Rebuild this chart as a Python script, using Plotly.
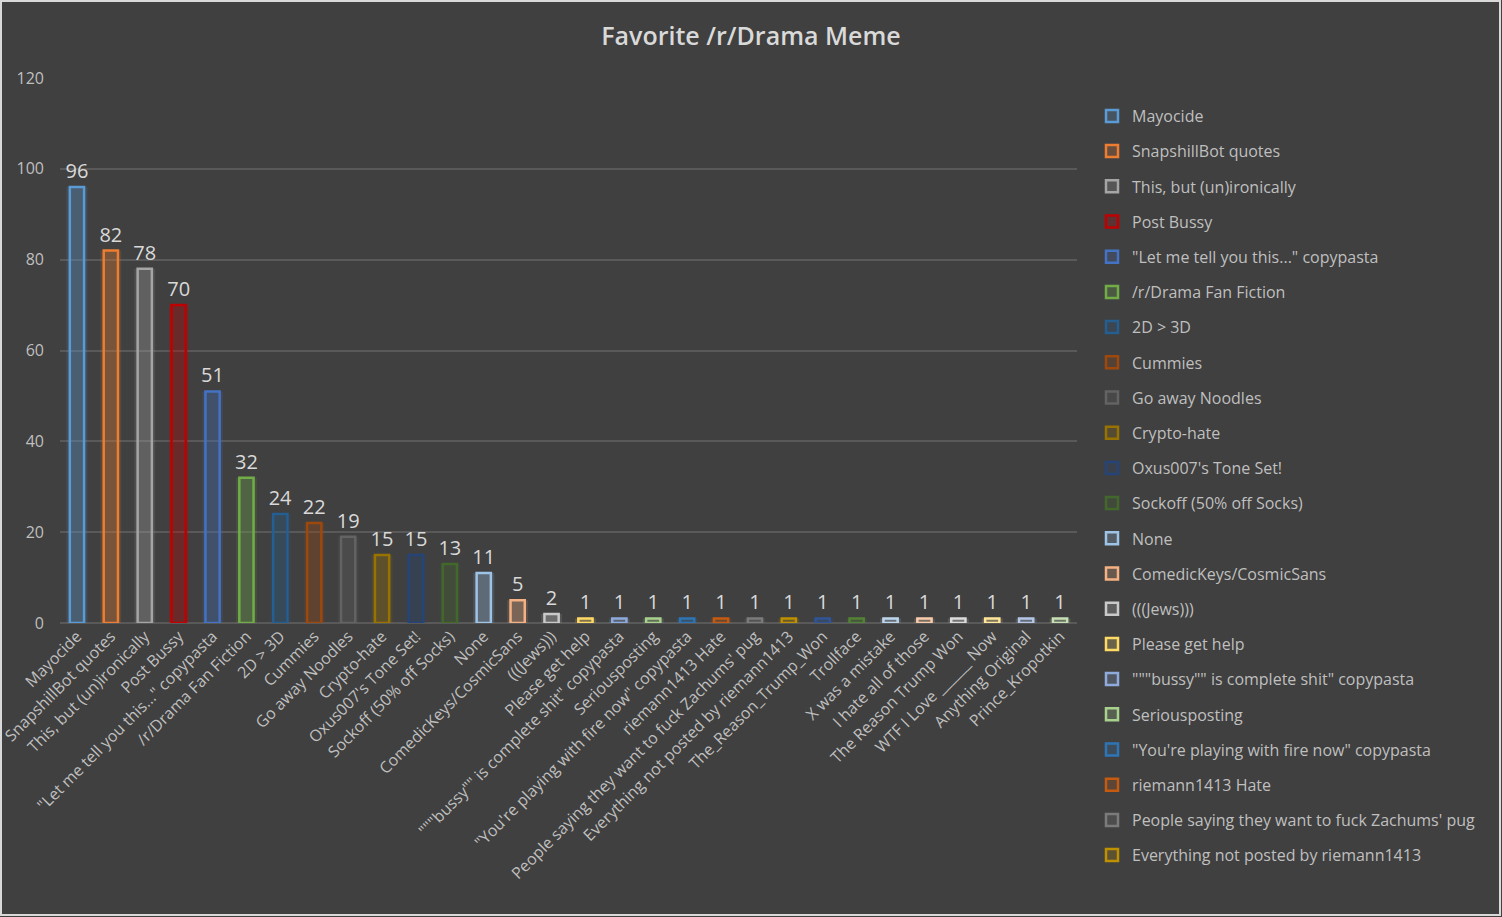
import plotly.graph_objects as go

categories = [
    "Mayocide", "SnapshillBot quotes", "This, but (un)ironically", "Post Bussy",
    "\"Let me tell you this...\" copypasta", "/r/Drama Fan Fiction", "2D > 3D", "Cummies",
    "Go away Noodles", "Crypto-hate", "Oxus007's Tone Set!", "Sockoff (50% off Socks)",
    "None", "ComedicKeys/CosmicSans", "(((Jews)))", "Please get help",
    "\"\"\"bussy\"\" is complete shit\" copypasta", "Seriousposting",
    "\"You're playing with fire now\" copypasta", "riemann1413 Hate",
    "People saying they want to fuck Zachums' pug", "Everything not posted by riemann1413",
    "The_Reason_Trump_Won", "Trollface", "X was a mistake", "I hate all of those",
    "The Reason Trump Won", "WTF I Love ______ Now", "Anything Original", "Prince_Kropotkin",
]
values = [96, 82, 78, 70, 51, 32, 24, 22, 19, 15, 15, 13, 11, 5, 2,
          1, 1, 1, 1, 1, 1, 1, 1, 1, 1, 1, 1, 1, 1, 1]
colors = [
    "#5B9BD5", "#ED7D31", "#A5A5A5", "#C00000", "#4472C4", "#70AD47",
    "#255E91", "#9E480E", "#636363", "#997300", "#264478", "#43682B",
    "#9DC3E6", "#F4B183", "#C9C9C9", "#FFD966", "#8FAADC", "#A9D18E",
    "#2E75B6", "#C55A11", "#7B7B7B", "#BF9000", "#2F5597", "#548235",
    "#BDD7EE", "#F8CBAD", "#DBDBDB", "#FFE699", "#B4C7E7", "#C5E0B4",
]
legend_count = 22

def rgba(hexc, a):
    h = hexc.lstrip("#")
    r, g, b = int(h[0:2], 16), int(h[2:4], 16), int(h[4:6], 16)
    return f"rgba({r},{g},{b},{a})"

FONT = "Open Sans"
fig = go.Figure()
for i, (cat, val, col) in enumerate(zip(categories, values, colors)):
    grp = f"g{i}"
    # soft glow behind bar
    fig.add_trace(go.Bar(
        x=[cat], y=[val], width=0.62, legendgroup=grp, showlegend=False,
        marker=dict(color=rgba(col, 0.14), line=dict(width=0)),
        hoverinfo="skip",
    ))
    fig.add_trace(go.Bar(
        x=[cat], y=[val], name=cat, width=0.42, legendgroup=grp,
        showlegend=i < legend_count,
        marker=dict(color=rgba(col, 0.22), line=dict(color=col, width=2.5)),
        text=[str(val)], textposition="outside", cliponaxis=False,
        constraintext="none",
        textfont=dict(size=20, color="#D9D9D9", family=FONT),
    ))

W, H = 1502, 917
L, R, T, B = 60, 425, 78, 294
pw, ph = W - L - R, H - T - B

fig.update_layout(
    width=W, height=H,
    barmode="overlay",
    paper_bgcolor="#404040", plot_bgcolor="#404040",
    margin=dict(l=L, r=R, t=T, b=B, autoexpand=False),
    font=dict(family=FONT, color="#BFBFBF", size=16),
    title=dict(text="Favorite /r/Drama Meme", x=0.5, xanchor="center",
               y=1 - 36 / H, yanchor="middle",
               font=dict(size=25, color="#D9D9D9", family=FONT, weight=600)),
    xaxis=dict(tickangle=-45, showgrid=False, showline=False, automargin=False,
               tickfont=dict(size=16, color="#BFBFBF"), ticks=""),
    yaxis=dict(range=[0, 120], dtick=20, gridcolor="#595959", gridwidth=1.5,
               zeroline=True, zerolinecolor="#595959", zerolinewidth=1.5,
               tickfont=dict(size=16, color="#BFBFBF"), automargin=False,
               ticklabelstandoff=15),
    legend=dict(x=(1092 - L) / pw, xanchor="left", y=(H - B - 99) / ph, yanchor="top",
                font=dict(size=16, color="#BFBFBF"), tracegroupgap=11.4,
                bgcolor="rgba(0,0,0,0)", itemwidth=30, maxheight=880),
    shapes=[dict(type="rect", xref="paper", yref="paper",
                 x0=(1 - L) / pw, x1=(W - 2 - L) / pw,
                 y0=-(B - 2) / ph, y1=(H - B - 1) / ph,
                 line=dict(color="#D9D9D9", width=2), fillcolor="rgba(0,0,0,0)", layer="below")],
    showlegend=True,
)

fig.write_html("out.html", config={"displayModeBar": False},
               post_script="document.body.style.margin='0';")
